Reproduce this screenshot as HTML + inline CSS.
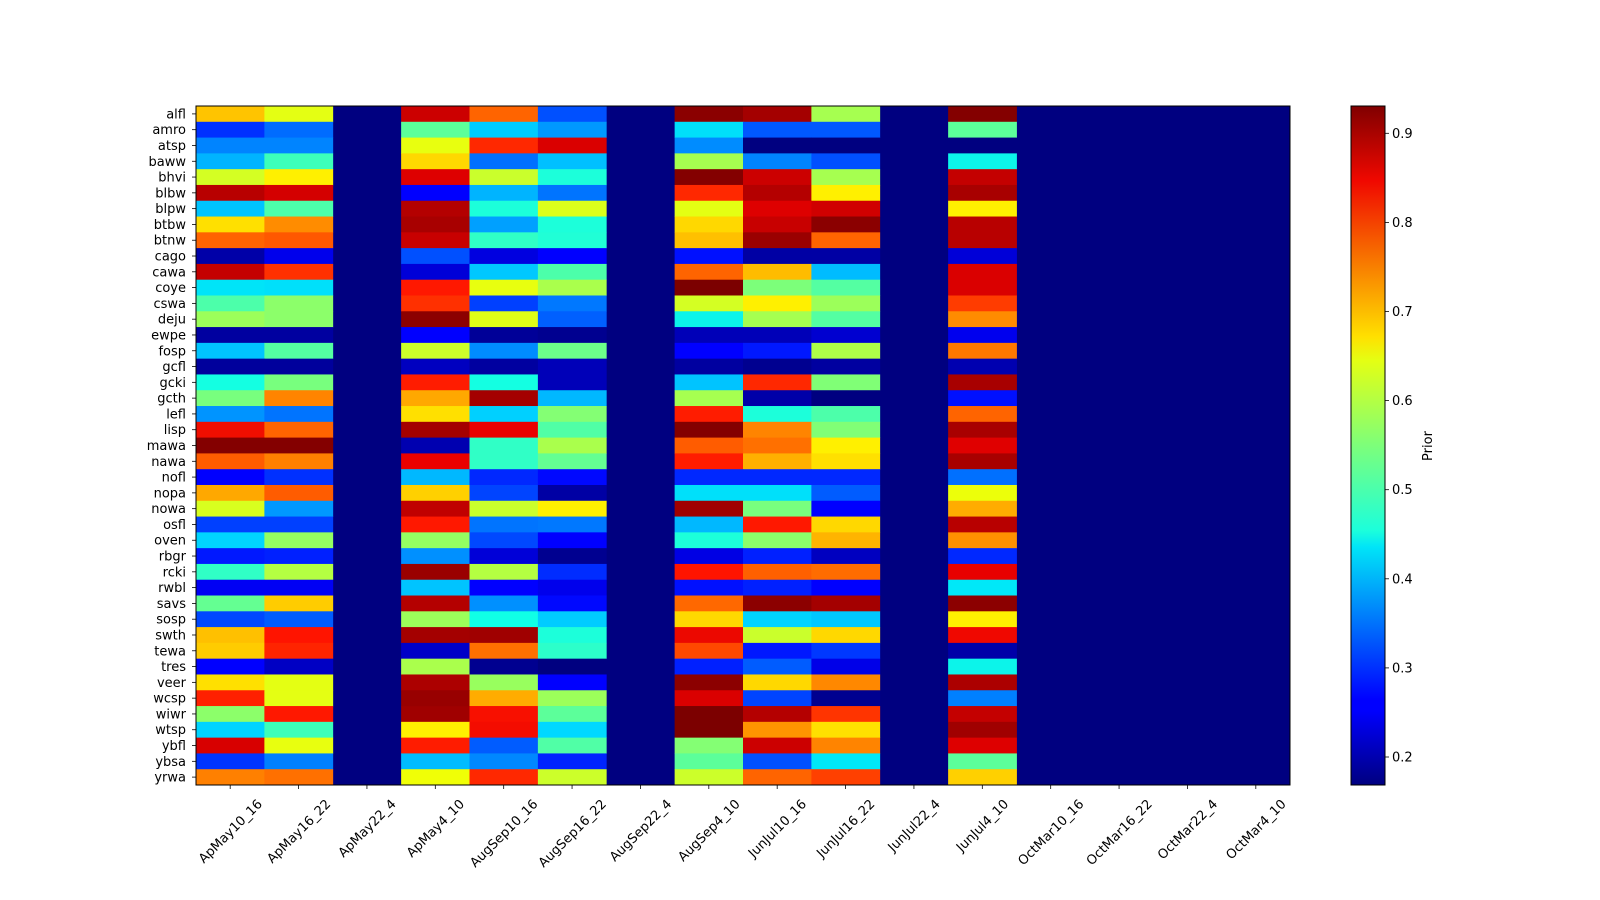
<!DOCTYPE html>
<html><head><meta charset="utf-8">
<style>
html,body{margin:0;padding:0;background:#fff;overflow:hidden;width:1600px;height:900px;}
svg{display:block;}
svg text{font-family:"DejaVu Sans","Liberation Sans",sans-serif;font-size:13px;fill:#000;}
</style></head>
<body>
<svg id="s" width="1600" height="900" xmlns="http://www.w3.org/2000/svg">
<defs>
<linearGradient id="jet" x1="0" y1="1" x2="0" y2="0">
<stop offset="0" stop-color="#000080"/>
<stop offset="0.11" stop-color="#0000ff"/>
<stop offset="0.125" stop-color="#0000ff"/>
<stop offset="0.35" stop-color="#00e4f8"/>
<stop offset="0.375" stop-color="#1cffdb"/>
<stop offset="0.5" stop-color="#7dff7a"/>
<stop offset="0.625" stop-color="#e4ff13"/>
<stop offset="0.66" stop-color="#ffe000"/>
<stop offset="0.89" stop-color="#f00800"/>
<stop offset="1" stop-color="#800000"/>
</linearGradient>
</defs>
<rect x="196" y="106" width="1094" height="679" fill="#000080"/>
<g id="cells"></g>
<rect x="196" y="106" width="1094" height="679" fill="none" stroke="#000" stroke-width="1"/>
<g id="yl"></g>
<g id="xl"></g>
<rect x="1351" y="106" width="34" height="679" fill="url(#jet)" stroke="#000" stroke-width="1"/>
<g id="cb"></g>
<text transform="translate(1432,446) rotate(-90)" text-anchor="middle">Prior</text>
</svg>
<script>
var rows=["alfl","amro","atsp","baww","bhvi","blbw","blpw","btbw","btnw","cago","cawa","coye","cswa","deju","ewpe","fosp","gcfl","gcki","gcth","lefl","lisp","mawa","nawa","nofl","nopa","nowa","osfl","oven","rbgr","rcki","rwbl","savs","sosp","swth","tewa","tres","veer","wcsp","wiwr","wtsp","ybfl","ybsa","yrwa"];
var cols=["ApMay10_16","ApMay16_22","ApMay22_4","ApMay4_10","AugSep10_16","AugSep16_22","AugSep22_4","AugSep4_10","JunJul10_16","JunJul16_22","JunJul22_4","JunJul4_10","OctMar10_16","OctMar16_22","OctMar22_4","OctMar4_10"];
var ci=[0,1,3,4,5,7,8,9,11];
var D=[
"#ffc400 #e4ff13 #cc0000 #ff6400 #0050ff #8b0000 #a40000 #a6ff50 #840000",
"#0030ff #006cff #5cff9a #00ccff #0098ff #00e0fa #0058ff #0058ff #5cff9a",
"#0084ff #0084ff #e8ff0f #ff2800 #da0000 #008cff #000080 #000080 #000080",
"#00b4ff #3cffba #ffd800 #0070ff #00c0ff #a6ff50 #0084ff #0050ff #0cf4ea",
"#d4ff23 #fff000 #de0000 #caff2c #1cffda #840000 #cc0000 #a6ff50 #c40000",
"#b80000 #d40000 #0000ff #00b4ff #0074ff #ff2800 #b40000 #fff000 #a80000",
"#00c4ff #4cffaa #b40000 #1cffda #dcff1a #e4ff13 #de0000 #d00000 #fff000",
"#ffe000 #ff8c00 #a80000 #00a0ff #1cffda #ffd800 #c80000 #8b0000 #b80000",
"#ff6400 #ff5800 #c80000 #30ffc6 #20ffd6 #ffc000 #9a0000 #ff6400 #b80000",
"#0000a8 #0000ec #0050ff #0000e0 #0000ff #0010ff #0000a4 #0000a4 #0000d8",
"#c40000 #ff3000 #0000d8 #00c8ff #4cffaa #ff6400 #ffbc00 #00bcff #da0000",
"#00e4f8 #00e0fa #ff1800 #e8ff0f #aaff4c #7c0000 #7cff7a #54ffa2 #da0000",
"#4cffaa #8cff6a #ff3000 #0040ff #0078ff #d4ff23 #fff000 #9cff5a #ff3c00",
"#9cff5a #8cff6a #8c0000 #e0ff16 #0060ff #0cf4ea #a6ff50 #54ffa2 #ff8c00",
"#0000a0 #0000a0 #0000ff #000098 #000090 #0000b8 #0000b8 #0000d0 #0000ee",
"#00c4ff #54ffa2 #ccff2a #008cff #6cff8a #0000ff #0018ff #aeff48 #ff7800",
"#00009c #00009c #0000c0 #0000a0 #0000b8 #0000a0 #000090 #0000a0 #0000b0",
"#14ffe2 #78ff7e #ff1c00 #14ffe2 #0000b8 #00c4ff #ff2800 #80ff76 #a80000",
"#78ff7e #ff8400 #ffa800 #a40000 #00b8ff #a6ff50 #0000a8 #000080 #0010ff",
"#0094ff #0074ff #ffe000 #00d0ff #84ff74 #ff1c00 #1cffda #4cffaa #ff6400",
"#f00e00 #ff6400 #a40000 #e80000 #50ffa6 #840000 #ff8400 #80ff76 #a80000",
"#840000 #840000 #0000b0 #30ffc6 #aaff4c #ff5c00 #ff7000 #fff000 #e00000",
"#ff5c00 #ff8000 #ea0000 #30ffc6 #64ff92 #ff1c00 #ffb000 #ffe000 #a80000",
"#0000ff #0030ff #00b8ff #0028ff #0008ff #0028ff #0028ff #0028ff #0070ff",
"#ffa800 #ff5c00 #ffd000 #0044ff #0000a4 #00e0fa #00e0fa #005cff #ecff0a",
"#d8ff1f #0098ff #c00000 #caff2c #fff000 #a00000 #78ff7e #0000ff #ffac00",
"#0040ff #0040ff #ff1800 #0074ff #0078ff #00b8ff #ff1800 #ffd800 #b80000",
"#00d4ff #94ff62 #94ff62 #0048ff #0000ff #1cffda #8cff6a #ffb400 #ff9000",
"#0018ff #0020ff #0090ff #0000d8 #000090 #0000e4 #0020ff #0000c0 #0028ff",
"#30ffc6 #b4ff42 #9a0000 #b4ff42 #002cff #ff1400 #ff6000 #ff6c00 #e80000",
"#0000f4 #0000f4 #00c4ff #0000ff #0000ec #0010ff #0020ff #0000ff #00e8f8",
"#64ff92 #ffcc00 #b40000 #0090ff #0008ff #ff6800 #8c0000 #a40000 #8c0000",
"#0048ff #005cff #9cff5a #10ffe6 #00ccff #ffd800 #00d4ff #00c8ff #fff000",
"#ffc000 #ff1400 #a40000 #a00000 #1cffda #ec0800 #caff2c #ffd800 #f00800",
"#ffcc00 #ff2400 #0000c8 #ff7000 #2cffca #ff4800 #0018ff #0038ff #0000a8",
"#0000ff #0000c4 #aaff4c #000090 #000080 #0020ff #005cff #0000e8 #0cf4ea",
"#ffe000 #e4ff13 #ac0000 #98ff5e #0000ff #8c0000 #ffd800 #ff8800 #ac0000",
"#ff2000 #e4ff13 #980000 #ffac00 #9cff5a #da0000 #0044ff #000090 #0080ff",
"#8cff6a #ff1800 #a00000 #f81000 #5cff9a #7c0000 #b40000 #ff3400 #c40000",
"#00d4ff #3cffba #fff000 #f40c00 #00d8ff #7c0000 #ff9400 #ffe000 #a00000",
"#d80000 #e8ff0f #ff1c00 #005cff #50ffa6 #84ff74 #cc0000 #ff8400 #de0000",
"#0034ff #0080ff #00bcff #0088ff #0024ff #5cff9a #0050ff #00e8f8 #5cff9a",
"#ff8000 #ff7000 #f0ff06 #ff2800 #ccff2a #ccff2a #ff6400 #ff4000 #ffd000"];
var NS="http://www.w3.org/2000/svg";
function el(t,a,p,txt){var e=document.createElementNS(NS,t);for(var k in a)e.setAttribute(k,a[k]);if(txt!==undefined)e.textContent=txt;p.appendChild(e);return e;}
var cw=1094/16, rh=679/43;
var g=document.getElementById("cells"), yl=document.getElementById("yl"), xl=document.getElementById("xl"), cb=document.getElementById("cb");
for(var r=0;r<43;r++){
  var c=D[r].split(" ");
  for(var j=0;j<9;j++){
    var x0=196+ci[j]*cw, y0=106+r*rh;
    el("rect",{x:x0.toFixed(2),y:y0.toFixed(2),width:(cw+0.4).toFixed(2),height:(rh+0.4).toFixed(2),fill:c[j]},g);
  }
  var yc=106+(r+0.5)*rh;
  el("line",{x1:192,y1:yc,x2:196,y2:yc,stroke:"#000","stroke-width":0.8},yl);
  el("text",{x:186,y:yc+4.5,"text-anchor":"end"},yl,rows[r]);
}
for(var i=0;i<16;i++){
  var xc=196+(i+0.5)*cw;
  el("line",{x1:xc,y1:785,x2:xc,y2:789,stroke:"#000","stroke-width":0.8},xl);
  var t=el("text",{"text-anchor":"middle",y:4.5},xl,cols[i]);
  var L=t.getComputedTextLength?t.getComputedTextLength():80;
  var half=(L+13)*0.7071/2;
  t.setAttribute("transform","translate("+xc.toFixed(1)+","+(797+half).toFixed(1)+") rotate(-45)");
}
for(var v=2;v<=9;v++){
  var y=757-(v-2)*89.1;
  el("line",{x1:1385,y1:y,x2:1389,y2:y,stroke:"#000","stroke-width":0.8},cb);
  el("text",{x:1392,y:y+4.5},cb,"0."+v);
}
</script>
</body></html>
